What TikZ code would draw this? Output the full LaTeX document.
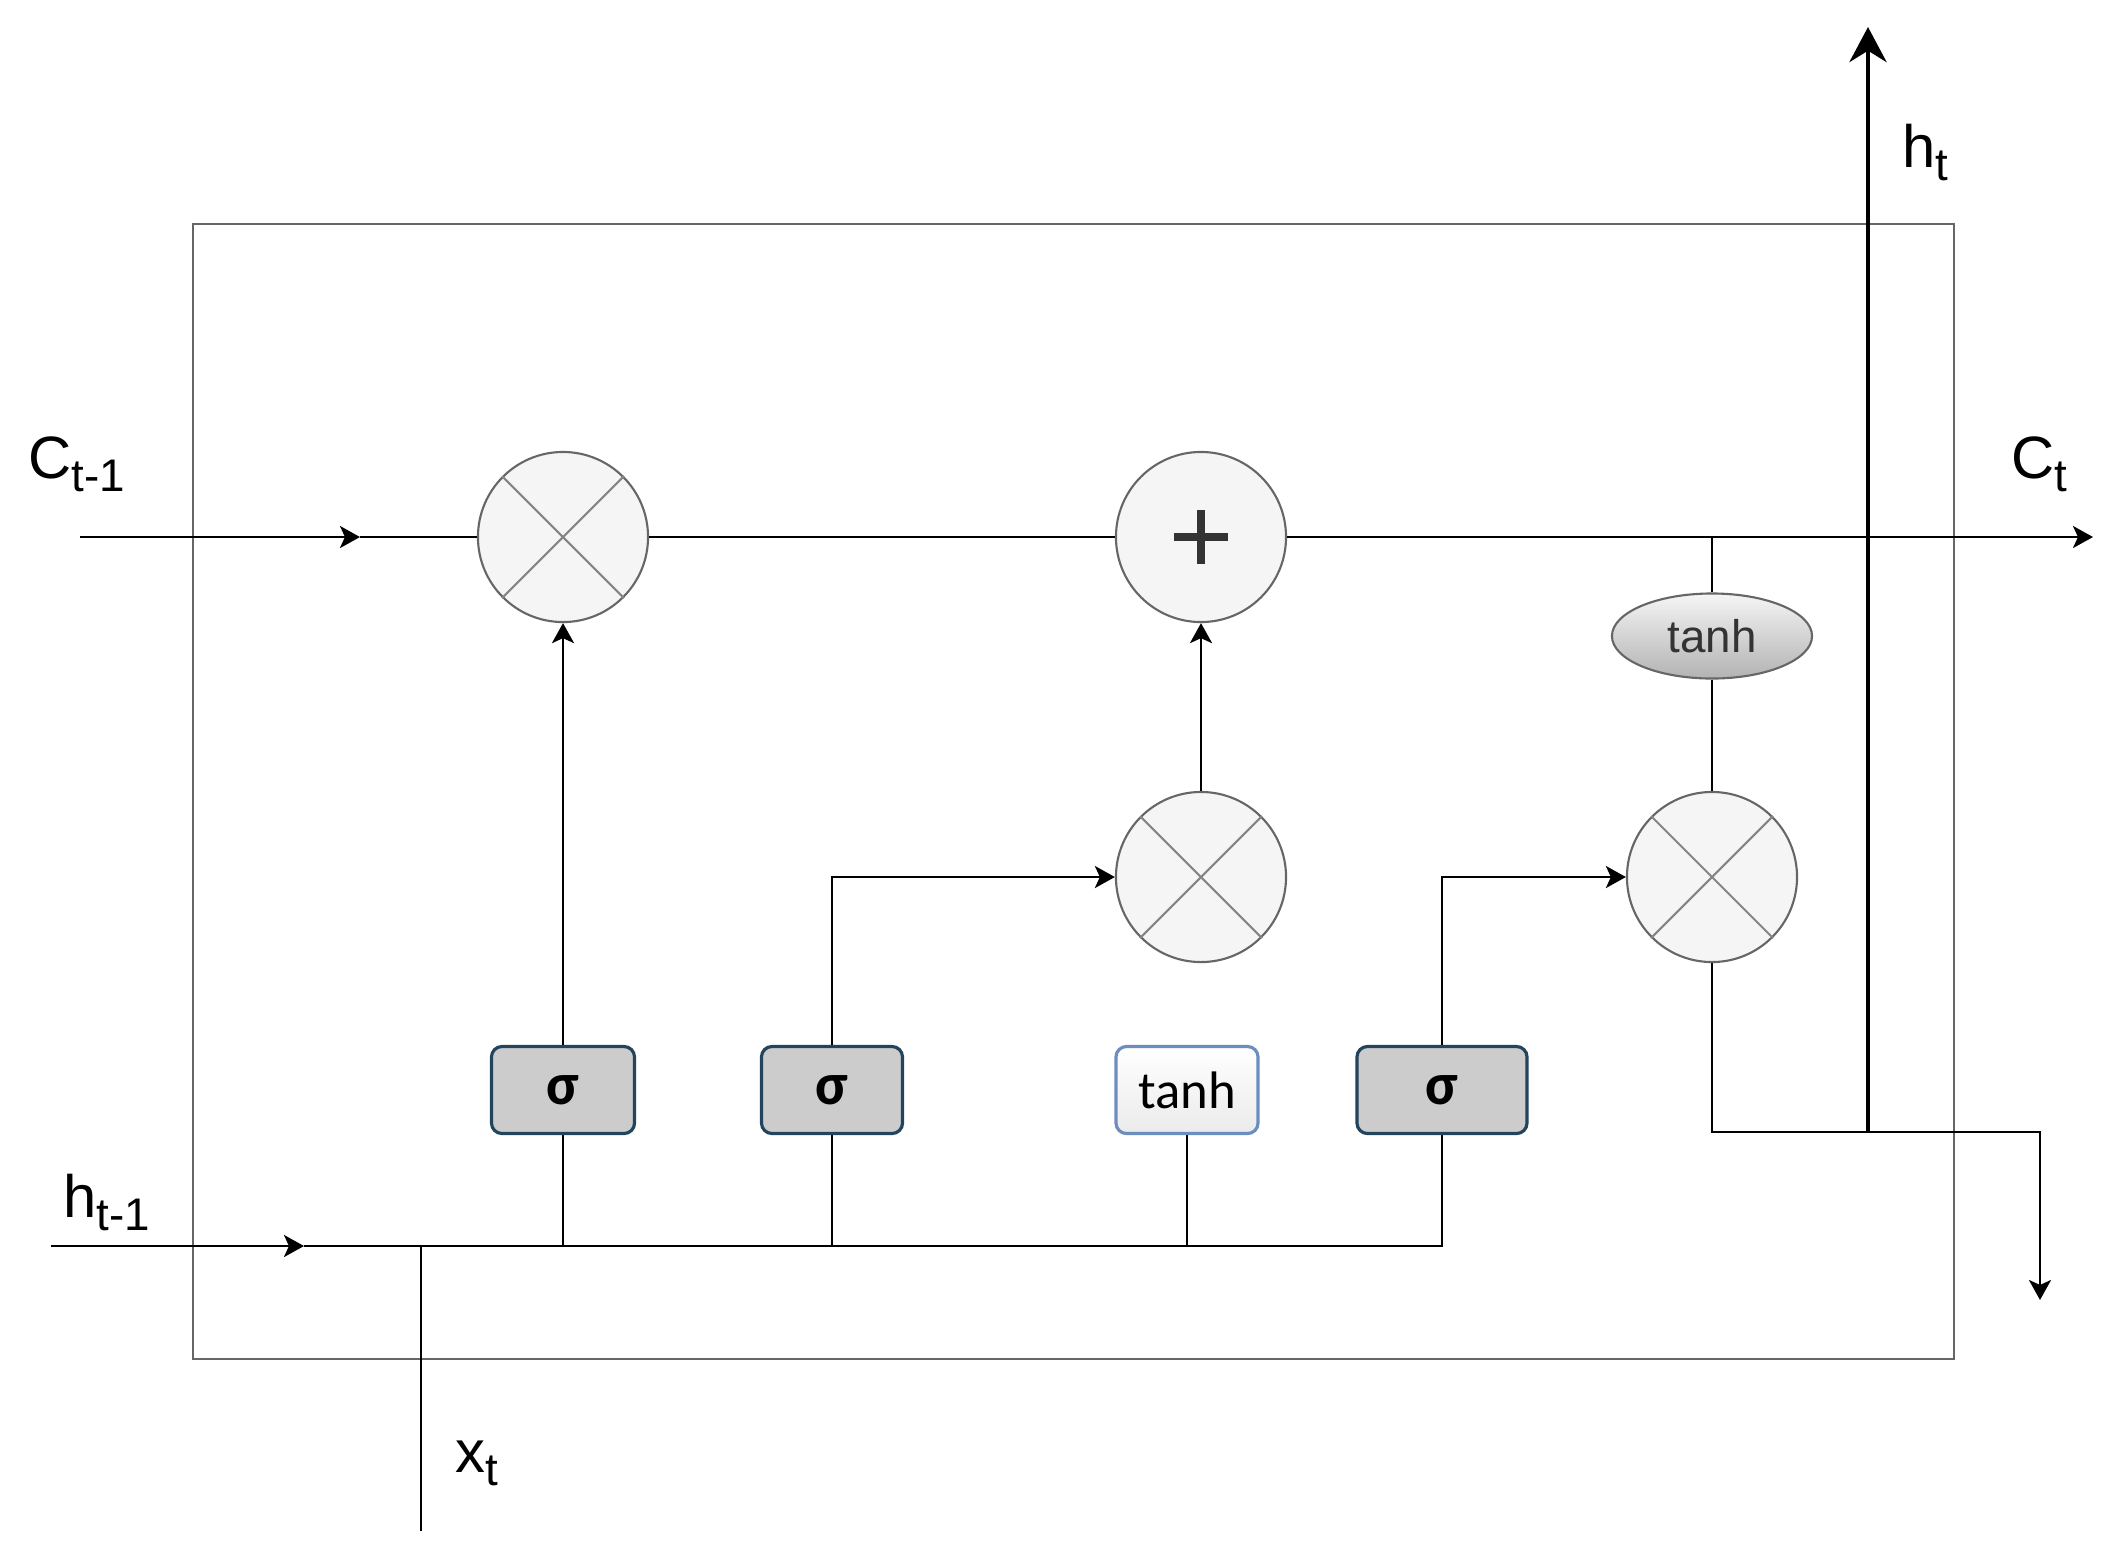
\documentclass[tikz,border=0pt]{standalone}
\usepackage{fontspec}
\setmainfont{Liberation Sans}
\newfontfamily\gatefont{Carlito}
\usepackage{tikz}
\usetikzlibrary{arrows.meta,shapes.geometric}
\definecolor{opfill}{HTML}{F5F5F5}
\definecolor{opline}{HTML}{666666}
\definecolor{gatefill}{HTML}{CCCCCC}
\definecolor{gateline}{HTML}{23445D}
\definecolor{actline}{HTML}{6C8EBF}
\newcommand\sublbl[2]{{\fontsize{17}{20}\selectfont #1}\raisebox{-3.9pt}{\fontsize{13}{15}\selectfont #2}}

\tikzset{
	op/.style={circle, draw=opline, fill=opfill, line width=0.6pt, minimum size=1.7cm, inner sep=0pt},
	gate/.style={rectangle, rounded corners=3pt, draw=gateline, fill=gatefill, line width=0.9pt, minimum height=0.87cm, inner sep=0pt, font=\gatefont\bfseries\fontsize{17}{18}\selectfont},
	act/.style={rectangle, rounded corners=3pt, draw=actline, top color=white, bottom color=black!8, line width=0.9pt, minimum height=0.87cm, inner sep=0pt, font=\gatefont\fontsize{15}{17}\selectfont},
	squash/.style={ellipse, draw=opline, top color=opfill, bottom color=black!30, line width=0.6pt, minimum width=2cm, minimum height=0.85cm, inner sep=0pt, text=black!80, font=\fontsize{13}{15}\selectfont},
	lbl/.style={anchor=base west, inner sep=0pt},
	wire/.style={line width=0.75pt},
	flow/.style={wire, -{Stealth[length=0.2cm,width=0.22cm,inset=0.05cm]}},
}

\begin{document}
\begin{tikzpicture}[x=0.01cm, y=-0.01cm]
	\useasboundingbox (0,0) rectangle (2117,1553);
	\draw[opline, line width=0.75pt] (193,224) rectangle (1954,1359);

	\node[op] (f1) at (563,537) {};
	\node[op] (add) at (1201,537) {};
	\node[op] (f2) at (1201,877) {};
	\node[op] (f3) at (1712,877) {};
	\foreach \n in {f1, f2, f3}
		\draw[opline!80, line width=0.6pt] (\n.45) -- (\n.225) (\n.135) -- (\n.-45);
	\draw[black!80, line width=2.3pt] (add.center) ++(-27,0) -- ++(54,0)
		(add.center) ++(0,-27) -- ++(0,54);

	\node[gate, minimum width=1.43cm] (g1) at (563,1090) {σ};
	\node[gate, minimum width=1.41cm] (g2) at (832,1090) {σ};
	\node[act, minimum width=1.42cm] (cand) at (1187,1090) {tanh};
	\node[gate, minimum width=1.70cm] (g3) at (1442,1090) {σ};
	\node[squash] (th) at (1712,636) {tanh};

	\node[lbl] (lcp) at (28,478) {\sublbl{C}{t-1}};
	\node[lbl] (lc) at (2011,478) {\sublbl{C}{t}};
	\node[lbl] (lhp) at (63,1217) {\sublbl{h}{t-1}};
	\node[lbl] (lh) at (1902,167) {\sublbl{h}{t}};
	\node[lbl] (lx) at (455,1472) {\sublbl{x}{t}};

	\coordinate (cin) at (80,537);
	\coordinate (cmid) at (360,537);
	\coordinate (cout) at (2093,537);
	\coordinate (tap) at (1712,537);
	\coordinate (hin) at (51,1246);
	\coordinate (hmid) at (304,1246);
	\coordinate (xin) at (421,1531);
	\coordinate (split) at (1868,1132);
	\coordinate (turn) at (2040,1132);
	\coordinate (hdown) at (2040,1300);
	\coordinate (hout) at (1868,27);

	% cell state
	\draw[flow] (cin) -- (cmid);
	\draw[wire] (cmid) -- (f1);
	\draw[wire] (f1) -- (add);
	\draw[flow] (add) -- (cout);
	\draw[wire] (tap) -- (th);
	\draw[wire] (th) -- (f3);

	% gates
	\draw[flow] (g1) -- (f1);
	\draw[flow] (f2) -- (add);
	\draw[flow] (g2.north) |- (f2.west);
	\draw[flow] (g3.north) |- (f3.west);

	% inputs
	\draw[flow] (hin) -- (hmid);
	\draw[wire] (hmid) -| (g3.south);
	\foreach \g in {g1, g2, cand}
		\draw[wire] (\g.south) -- (\g.south |- hin);
	\draw[wire] (xin) -- (xin |- hin);

	% output
	\draw[flow] (f3.south) |- (turn) -- (hdown);
	\draw[line width=1.4pt, -{Stealth[length=0.35cm,width=0.37cm]}] (split) -- (hout);
\end{tikzpicture}
\end{document}
